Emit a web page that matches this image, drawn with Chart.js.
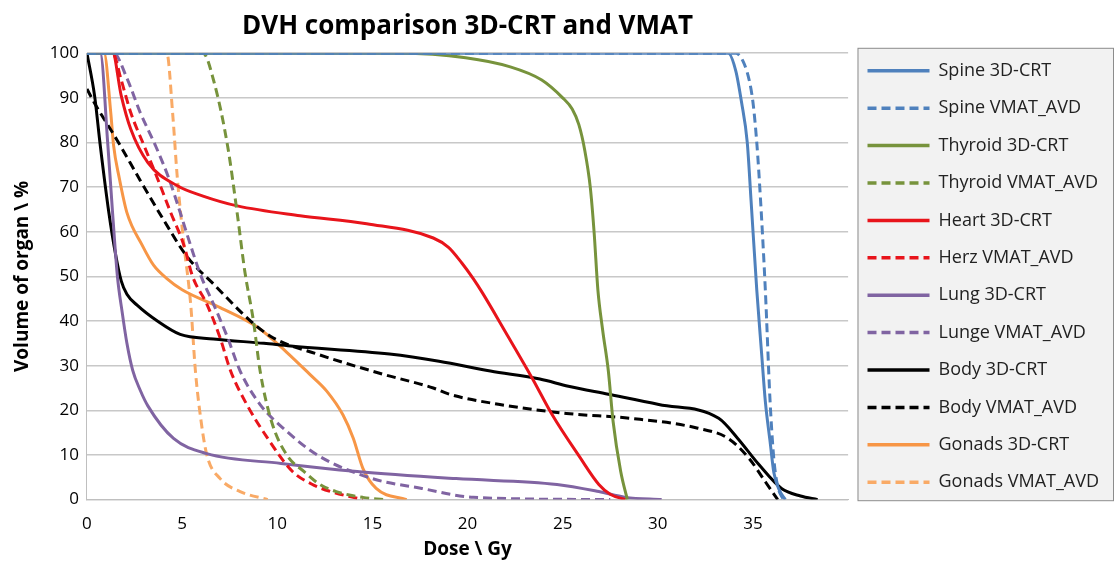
<!DOCTYPE html>
<html>
<head>
<meta charset="utf-8">
<script src="https://cdn.jsdelivr.net/npm/chart.js"></script>
<style>
  html, body { margin: 0; padding: 0; background: #fff; }
</style>
</head>
<body>
<canvas id="graficos" width="1116" height="563"></canvas>
<script>
// dose (Gy) / volume (%) pairs
const spine3dDose = [0, 33.7, 34.1, 34.4, 34.7, 34.9, 35.2, 35.45, 35.65, 35.9, 36.1, 36.4, 36.7];
const spine3dVol  = [100, 100, 96, 89, 80, 67, 47, 33, 22, 13, 6, 2, 0];
const spineVmatDose = [0, 34.1, 34.5, 34.8, 35.0, 35.2, 35.4, 35.65, 35.9, 36.1, 36.3, 36.6];
const spineVmatVol  = [100, 100, 98, 94, 89, 80, 67, 47, 22, 9, 3, 0];

const thyroid3dDose = [0, 16.4, 19.9, 22.2, 23.9, 25.0, 25.5, 25.85, 26.15, 26.45, 26.65, 26.85, 27.1, 27.4, 27.65, 28.05, 28.4];
const thyroid3dVol  = [100, 100, 99, 97, 94, 90, 87.5, 84, 78.5, 70, 60, 47, 38, 28.8, 17.5, 6.3, 0];
const thyroidVmatDose = [0, 6.1, 6.65, 7.4, 7.9, 8.3, 8.75, 9.1, 9.7, 10.5, 11.4, 12.2, 13.1, 14.5, 15.6];
const thyroidVmatVol  = [100, 100, 94, 79, 64, 51, 40, 28.8, 17.5, 10, 6.3, 3.5, 1.8, 0.5, 0];

const heart3dDose = [0, 1.35, 1.8, 2.3, 3.2, 4.75, 6.1, 7.9, 11.2, 14.7, 18.2, 19.0, 19.7, 20.3, 20.8, 22.0, 23.4, 24.45, 25.9, 26.9, 27.5, 28.3];
const heart3dVol  = [100, 100, 90.5, 83, 75.5, 70.3, 68, 65.8, 63.6, 61.8, 58.6, 56.5, 53, 49.5, 46.2, 37.5, 27.2, 19, 9.5, 3.4, 1.2, 0];
const heartVmatDose = [0, 1.35, 1.8, 2.3, 3.0, 3.7, 4.4, 5.1, 5.55, 6.3, 7.0, 7.55, 8.4, 9.5, 10.8, 11.8, 12.8, 14.5];
const heartVmatVol  = [100, 100, 94, 86.7, 79.3, 72, 64.3, 56.9, 50, 43.8, 36.2, 28.8, 21.3, 13.7, 6.3, 3.5, 1.8, 0];

const lung3dDose = [0, 0.7, 1.1, 1.35, 1.6, 1.85, 2.1, 2.4, 2.8, 3.2, 4.55, 6.3, 10.2, 14.2, 19.4, 24.7, 26.9, 28.3, 30.2];
const lung3dVol  = [100, 100, 79.3, 64, 50, 42, 35, 29, 24.5, 21, 13.7, 10.3, 8.1, 6.3, 4.7, 3.4, 1.8, 0.5, 0];
const lungVmatDose = [0, 1.4, 2.1, 2.8, 3.6, 4.3, 4.9, 5.45, 6.0, 6.65, 7.4, 8.05, 9.1, 10.5, 12.1, 15.0, 17.6, 20.3, 27.5];
const lungVmatVol  = [100, 100, 94.4, 86.7, 79.3, 72, 64.3, 56.9, 50, 43.8, 36.2, 28.8, 21.3, 15.3, 10, 4.7, 2.5, 0.5, 0];

const body3dDose = [0, 0.4, 0.7, 1.15, 1.5, 1.8, 2.1, 2.65, 3.7, 4.9, 6.65, 9.3, 10.7, 15.9, 18.5, 21.2, 23.8, 25.3, 27.4, 30.05, 33.2, 34.2, 35.3, 36.5, 37.5, 38.4];
const body3dVol  = [100, 90.5, 79.3, 64.3, 55, 49, 46, 43.5, 40, 37, 36, 35, 34.4, 32.6, 31, 28.8, 27, 25.4, 23.6, 21.3, 18.2, 13.7, 7.9, 2.5, 0.8, 0];
const bodyVmatDose = [0, 0.4, 1.6, 2.8, 4.05, 5.3, 6.65, 8.6, 9.8, 12.1, 15.55, 18.2, 19.05, 21.7, 25.2, 28.6, 32.1, 33.7, 34.8, 35.65, 36.3];
const bodyVmatVol  = [92, 88.8, 80.4, 71.5, 62.5, 54.2, 48.3, 40, 36.2, 32.6, 28.1, 25, 23.6, 21.3, 19.3, 18.2, 16, 13.7, 9.2, 4, 0];

const gonads3dDose = [0, 0.9, 1.25, 1.4, 1.7, 2.1, 2.9, 3.5, 4.2, 5.0, 7.0, 9.0, 10.5, 11.7, 12.6, 13.45, 14.0, 14.5, 15.2, 16.8];
const gonads3dVol  = [100, 100, 86.7, 79.3, 72, 64.3, 57, 52.5, 49.5, 47, 43, 38.5, 33, 28.1, 24.3, 19, 13.7, 7, 2.5, 0];
const gonadsVmatDose = [0, 4.2, 4.5, 4.75, 5.1, 5.45, 5.7, 6.0, 6.3, 7.0, 8.05, 9.5];
const gonadsVmatVol  = [100, 100, 86.7, 72, 57, 43.8, 28.8, 17.5, 10, 4.7, 1.8, 0];

const xTicksMax = 35;

function puntos(dosis, vol) {
    let arr = [];
    for (let i = 0; i < dosis.length; i++) {
        arr.push({x: dosis[i], y: vol[i]});
    }
    return arr;
}

function serie(label, dosis, vol, color, dashed) {
    return {
        label: label,
        data: puntos(dosis, vol),
        borderColor: color,
        backgroundColor: color,
        borderWidth: 3,
        borderDash: dashed ? [9, 5] : [],
        pointRadius: 0,
        cubicInterpolationMode: 'monotone',
        fill: false
    };
}

// grey box behind the legend
const fondoLeyenda = {
    id: 'fondoLeyenda',
    beforeDraw(chart) {
        const l = chart.legend;
        if (!l || !l.legendHitBoxes.length) return;
        const hb = l.legendHitBoxes;
        const ctx = chart.ctx;
        const x0 = hb[0].left - 10;
        const y0 = hb[0].top - 14;
        const y1 = hb[hb.length - 1].top + hb[hb.length - 1].height + 9;
        const x1 = 1113;
        ctx.save();
        ctx.fillStyle = '#f2f2f2';
        ctx.fillRect(x0, y0, x1 - x0, y1 - y0);
        ctx.strokeStyle = '#8c8c8c';
        ctx.lineWidth = 1;
        ctx.strokeRect(x0 + 0.5, y0 + 0.5, x1 - x0, y1 - y0);
        ctx.restore();
    }
};

const ctx = document.getElementById('graficos').getContext('2d');
Chart.defaults.font.family = '"Open Sans", sans-serif';
Chart.defaults.color = '#000';

let myChart = new Chart(ctx, {
    type: 'line',
    data: {
        datasets: [
            serie('Spine 3D-CRT', spine3dDose, spine3dVol, '#4f81bd', false),
            serie('Spine VMAT_AVD', spineVmatDose, spineVmatVol, '#4f81bd', true),
            serie('Thyroid 3D-CRT', thyroid3dDose, thyroid3dVol, '#77933c', false),
            serie('Thyroid VMAT_AVD', thyroidVmatDose, thyroidVmatVol, '#77933c', true),
            serie('Heart 3D-CRT', heart3dDose, heart3dVol, '#e8141b', false),
            serie('Herz VMAT_AVD', heartVmatDose, heartVmatVol, '#e8141b', true),
            serie('Lung 3D-CRT', lung3dDose, lung3dVol, '#8064a2', false),
            serie('Lunge VMAT_AVD', lungVmatDose, lungVmatVol, '#8064a2', true),
            serie('Body 3D-CRT', body3dDose, body3dVol, '#000000', false),
            serie('Body VMAT_AVD', bodyVmatDose, bodyVmatVol, '#000000', true),
            serie('Gonads 3D-CRT', gonads3dDose, gonads3dVol, '#f79646', false),
            serie('Gonads VMAT_AVD', gonadsVmatDose, gonadsVmatVol, '#f9aa66', true)
        ]
    },
    options: {
        responsive: false,
        animation: false,
        layout: { padding: { top: -6, right: 7, bottom: 4, left: 7 } },
        plugins: {
            title: {
                display: true,
                text: 'DVH comparison 3D-CRT and VMAT',
                fullSize: false,
                font: { size: 26, weight: 'bold' },
                padding: { top: 17, bottom: 11 }
            },
            legend: {
                position: 'right',
                labels: {
                    usePointStyle: true,
                    pointStyle: 'line',
                    pointStyleWidth: 62,
                    padding: 19.4,
                    color: '#222',
                    font: { size: 18 },
                    generateLabels(chart) {
                        const items = Chart.defaults.plugins.legend.labels.generateLabels(chart);
                        items.forEach((it, i) => {
                            const ds = chart.data.datasets[i];
                            it.lineDash = ds.borderDash;
                            it.lineWidth = 3.5;
                            it.strokeStyle = ds.borderColor;
                        });
                        return items;
                    }
                }
            },
            tooltip: { enabled: false }
        },
        scales: {
            x: {
                type: 'linear',
                min: 0,
                max: 40,
                ticks: {
                    stepSize: 5,
                    padding: 6,
                    font: { size: 17 },
                    callback: v => v <= xTicksMax ? v : ''
                },
                grid: { display: false },
                border: { color: '#bfbfbf', width: 1 },
                title: { display: true, text: 'Dose \\ Gy', font: { size: 19, weight: 'bold', lineHeight: 1.0 }, padding: { top: 0, bottom: 0 } }
            },
            y: {
                min: 0,
                max: 100,
                ticks: { stepSize: 10, padding: 8, font: { size: 17 } },
                grid: { color: '#c8c8c8', lineWidth: 1.5, drawTicks: false },
                border: { color: '#bfbfbf', width: 1 },
                title: { display: true, text: 'Volume of organ \\ %', font: { size: 19, weight: 'bold' }, padding: { bottom: 8 } }
            }
        }
    },
    plugins: [fondoLeyenda]
});
</script>
</body>
</html>
